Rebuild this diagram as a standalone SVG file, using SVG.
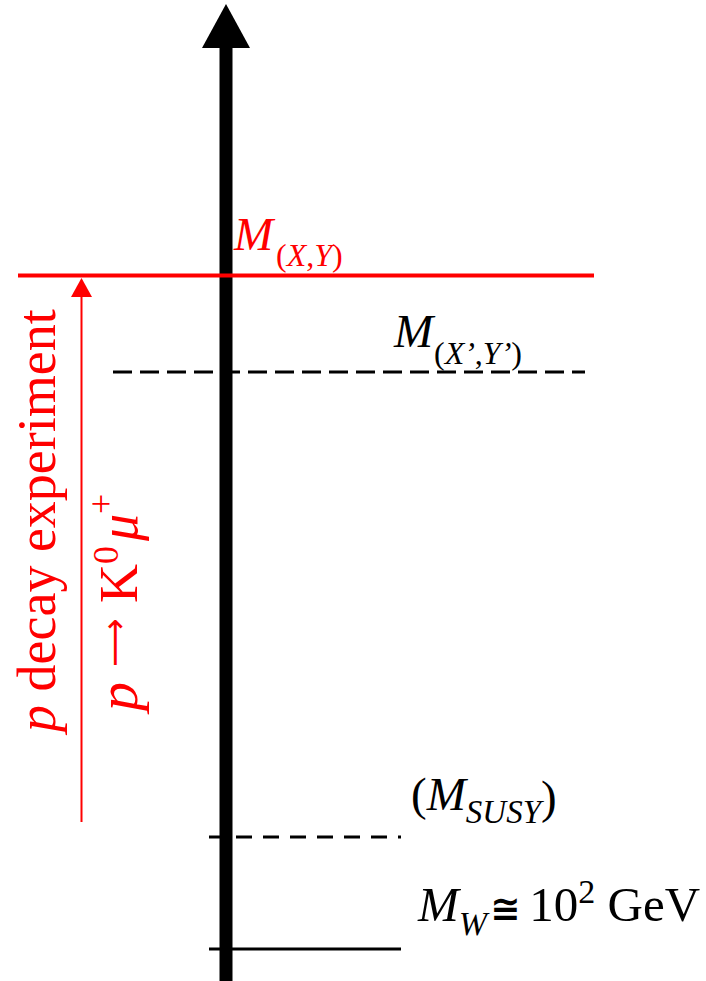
<svg xmlns="http://www.w3.org/2000/svg" width="706" height="981" viewBox="0 0 706 981">
<style>
text{font-family:"Liberation Serif","Times New Roman",serif;}
.blk{fill:#000;}
.red{fill:#ff0000;}
.it{font-style:italic;}
.sym{font-family:"DejaVu Sans",sans-serif;}
</style>
<rect width="706" height="981" fill="#fff"/>
<g id="connectors">
  <g id="axis">
    <rect x="219.5" y="44" width="13" height="937" fill="#000"/>
    <polygon points="226,4 202,48 250,48" fill="#000"/>
  </g>
  <line id="level-xy" x1="18" y1="275.5" x2="594" y2="275.5" stroke="#ff0000" stroke-width="4"/>
  <line id="level-xpyp" x1="113" y1="372" x2="585" y2="372" stroke="#000" stroke-width="3" stroke-dasharray="19 8"/>
  <line id="level-susy" x1="209" y1="837" x2="401" y2="837" stroke="#000" stroke-width="3" stroke-dasharray="16 11"/>
  <line id="level-w" x1="209" y1="949" x2="401" y2="949" stroke="#000" stroke-width="3"/>
  <g id="decay-arrow">
    <line x1="81.5" y1="295" x2="81.5" y2="822" stroke="#ff0000" stroke-width="2"/>
    <polygon points="81.5,278 71,297 92,297" fill="#ff0000"/>
  </g>
</g>
<g id="label-mxy">
  <text x="234" y="250" font-size="47" class="red it">M</text>
  <text x="276" y="266" font-size="32" class="red">(<tspan class="it">X</tspan>,<tspan class="it">Y</tspan>)</text>
</g>
<g id="label-mxpyp">
  <text x="394" y="347" font-size="47" class="blk it">M</text>
  <text x="434" y="364" font-size="32" class="blk">(<tspan class="it">X’</tspan>,<tspan class="it">Y’</tspan>)</text>
</g>
<g id="label-susy">
  <text x="411" y="810" font-size="47" class="blk">(<tspan class="it">M</tspan><tspan class="it" font-size="33" dy="13">SUSY</tspan><tspan dy="-10">)</tspan></text>
</g>
<g id="label-w">
  <text x="418" y="921" font-size="49" class="blk"><tspan class="it">M</tspan><tspan class="it" font-size="34" dy="14">W</tspan><tspan dy="-14" class="sym" font-size="36" font-weight="bold" dx="3">≅</tspan><tspan dx="9">10</tspan><tspan font-size="34" dy="-18">2</tspan><tspan dy="18"> GeV</tspan></text>
</g>
<g id="label-decay">
  <text transform="translate(55,732) rotate(-90)" font-size="54" class="red"><tspan class="it">p</tspan> decay experiment</text>
</g>
<g id="label-channel">
  <text transform="translate(137,717) rotate(-90)" font-size="54" class="red"><tspan class="it" x="6" font-size="58">p</tspan><tspan x="50" dy="-11" class="sym" font-size="34">⟶</tspan><tspan x="114" dy="11">K</tspan><tspan x="153" font-size="36" dy="-19">0</tspan><tspan class="it" x="176" dy="19">μ</tspan><tspan x="203" font-size="36" dy="-24">+</tspan></text>
</g>
</svg>
